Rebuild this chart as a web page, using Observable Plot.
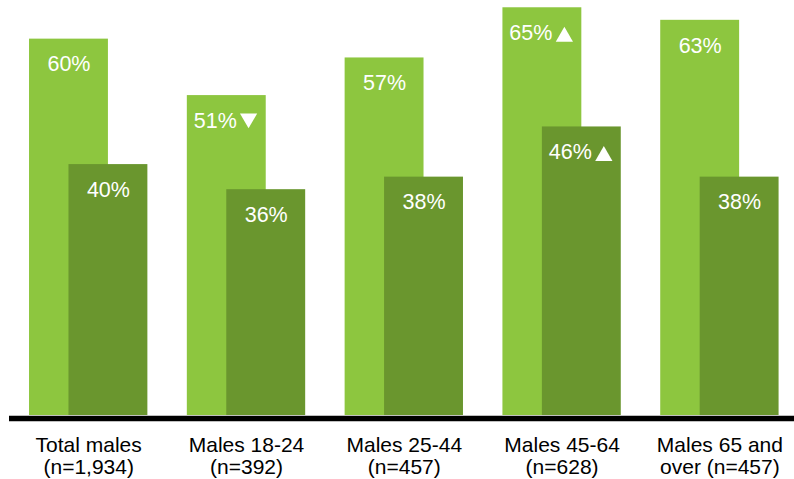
<!DOCTYPE html>
<html>
<head>
<meta charset="utf-8">
<script src="https://cdn.jsdelivr.net/npm/d3@7"></script>
<script src="https://cdn.jsdelivr.net/npm/@observablehq/plot@0.6"></script>
<style>
  html, body { margin: 0; padding: 0; background: #ffffff; }
  #chart svg { display: block; }
</style>
</head>
<body>
<div id="chart"></div>
<script>
// ---- Data ----
const categories = [
  "Total males\n(n=1,934)",
  "Males 18-24\n(n=392)",
  "Males 25-44\n(n=457)",
  "Males 45-64\n(n=628)",
  "Males 65 and\nover (n=457)"
];
const seriesNames = ["Series 1", "Series 2"];
const valuesSeries1 = [60, 51, 57, 65, 63];
const valuesSeries2 = [40, 36, 38, 46, 38];
const flagsSeries1 = ["", "▼", "", "▲", ""];
const flagsSeries2 = ["", "", "", "▲", ""];
const seriesColors = ["#8dc63f", "#6a962e"];

// ---- Build table ----
const barWidth = 0.5;   // in group-step units
const seriesShift = 0.25;
const table = [];
categories.forEach((cat, i) => {
  [[valuesSeries1, flagsSeries1], [valuesSeries2, flagsSeries2]].forEach(([vals, flags], s) => {
    const x1 = i + s * seriesShift;
    table.push({
      category: cat,
      series: seriesNames[s],
      value: vals[i],
      flag: flags[i],
      label: vals[i] + "%",
      x1,
      x2: x1 + barWidth,
      xm: x1 + barWidth / 2
    });
  });
});
const plain = table.filter(d => !d.flag);
const flagged = table.filter(d => d.flag);
const flaggedUp = table.filter(d => d.flag === "▲");
const flaggedDown = table.filter(d => d.flag === "▼");
const axisLabels = categories.map((c, i) => ({ text: c, x: i + (barWidth + seriesShift) / 2 }));

const chart = Plot.plot({
  width: 794,
  height: 479,
  marginLeft: 9,
  marginRight: 0,
  marginTop: 0,
  marginBottom: 0,
  style: { fontFamily: "'Liberation Sans', Arial, sans-serif", background: "#ffffff" },
  x: { type: "linear", domain: [-0.125, 4.875], range: [9.3, 798.3], axis: null },
  y: { domain: [0, 66], range: [415, 1], axis: null },
  color: { domain: seriesNames, range: seriesColors },
  marks: [
    Plot.rect(table, { x1: "x1", x2: "x2", y1: () => 0, y2: "value", fill: "series" }),
    Plot.text(plain, {
      x: "xm", y: "value", text: "label", fill: "#ffffff",
      fontSize: 21.5, lineAnchor: "top", dy: 17, textAnchor: "middle"
    }),
    Plot.text(flagged, {
      x: "xm", y: "value", text: "label", fill: "#ffffff",
      fontSize: 21.5, lineAnchor: "top", dy: 17, dx: 10, textAnchor: "end"
    }),
    Plot.dot(flaggedUp, {
      x: "xm", y: "value", symbol: "triangle", r: 6.4, fill: "#ffffff", stroke: null,
      dx: 22, dy: 29
    }),
    Plot.dot(flaggedDown, {
      x: "xm", y: "value", symbol: "triangle", r: 6.4, rotate: 180, fill: "#ffffff", stroke: null,
      dx: 21.8, dy: 22.8
    }),
    Plot.ruleY([0], { stroke: "#000000", strokeWidth: 5.5, dy: 3 }),
    Plot.text(axisLabels, {
      x: "x", y: () => 0, text: "text", fill: "#000000",
      fontSize: 21, lineHeight: 1.04, lineAnchor: "top", dy: 20.7, textAnchor: "middle"
    })
  ]
});
document.getElementById("chart").appendChild(chart);
</script>
</body>
</html>
